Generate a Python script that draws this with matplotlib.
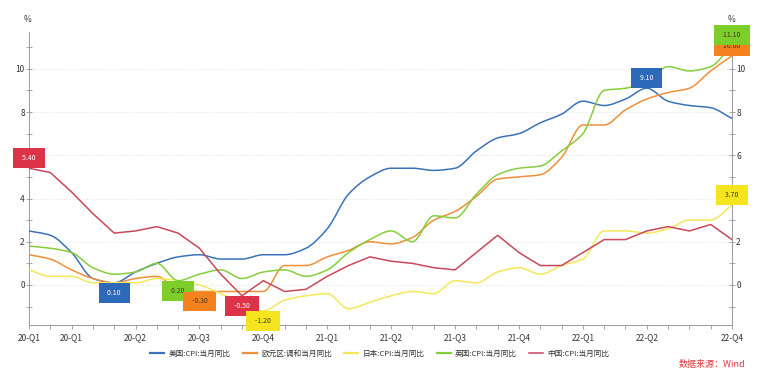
import numpy as np
import matplotlib
matplotlib.use('Agg')
import matplotlib.pyplot as plt
from matplotlib.path import Path
from matplotlib.patches import PathPatch

plt.rcParams['font.family'] = ['Noto Sans CJK SC', 'DejaVu Sans']

# monthly data, 2020-01 .. 2022-10
months = np.arange(34)
us = [2.5, 2.3, 1.5, 0.3, 0.1, 0.6, 1.0, 1.3, 1.4, 1.2, 1.2, 1.4,
      1.4, 1.7, 2.6, 4.2, 5.0, 5.4, 5.4, 5.3, 5.4, 6.2, 6.8, 7.0,
      7.5, 7.9, 8.5, 8.3, 8.6, 9.1, 8.5, 8.3, 8.2, 7.7]
euro = [1.4, 1.2, 0.7, 0.3, 0.1, 0.3, 0.4, -0.2, -0.3, -0.3, -0.3, -0.3,
        0.9, 0.9, 1.3, 1.6, 2.0, 1.9, 2.2, 3.0, 3.4, 4.1, 4.9, 5.0,
        5.1, 5.9, 7.4, 7.4, 8.1, 8.6, 8.9, 9.1, 9.9, 10.6]
japan = [0.7, 0.4, 0.4, 0.1, 0.1, 0.1, 0.3, 0.2, 0.0, -0.4, -0.9, -1.2,
         -0.7, -0.5, -0.4, -1.1, -0.8, -0.5, -0.3, -0.4, 0.2, 0.1, 0.6, 0.8,
         0.5, 0.9, 1.2, 2.5, 2.5, 2.4, 2.6, 3.0, 3.0, 3.7]
uk = [1.8, 1.7, 1.5, 0.8, 0.5, 0.6, 1.0, 0.2, 0.5, 0.7, 0.3, 0.6,
      0.7, 0.4, 0.7, 1.5, 2.1, 2.5, 2.0, 3.2, 3.1, 4.2, 5.1, 5.4,
      5.5, 6.2, 7.0, 9.0, 9.1, 9.4, 10.1, 9.9, 10.1, 11.1]
china = [5.4, 5.2, 4.3, 3.3, 2.4, 2.5, 2.7, 2.4, 1.7, 0.5, -0.5, 0.2,
         -0.3, -0.2, 0.4, 0.9, 1.3, 1.1, 1.0, 0.8, 0.7, 1.5, 2.3, 1.5,
         0.9, 0.9, 1.5, 2.1, 2.1, 2.5, 2.7, 2.5, 2.8, 2.1]

names = ['美国:CPI:当月同比', '欧元区:调和当月同比', '日本:CPI:当月同比',
         '英国:CPI:当月同比', '中国:CPI:当月同比']
tick_pos = [0, 2, 5, 8, 11, 14, 17, 20, 23, 26, 29, 33]
tick_labels = ['20-Q1', '20-Q1', '20-Q2', '20-Q3', '20-Q4', '21-Q1', '21-Q2',
               '21-Q3', '21-Q4', '22-Q1', '22-Q2', '22-Q4']

line_colors = ['#3b72b6', '#ef8f3a', '#f4e85a', '#86cd3c', '#c9475a']
box_colors = ['#2c69b8', '#f5821f', '#f6e41f', '#7dce2a', '#dc3348']


def smooth_path(x, y):
    # monotone cubic through the points, drawn as bezier segments
    x = np.asarray(x, float)
    y = np.asarray(y, float)
    d = np.diff(y) / np.diff(x)
    m = np.zeros_like(y)
    m[0], m[-1] = d[0], d[-1]
    for k in range(1, len(y) - 1):
        if d[k - 1] * d[k] > 0:
            m[k] = 2.0 / (1.0 / d[k - 1] + 1.0 / d[k])
    verts = [(x[0], y[0])]
    codes = [Path.MOVETO]
    for i in range(len(x) - 1):
        h = x[i + 1] - x[i]
        verts += [(x[i] + h / 3, y[i] + m[i] * h / 3),
                  (x[i + 1] - h / 3, y[i + 1] - m[i + 1] * h / 3),
                  (x[i + 1], y[i + 1])]
        codes += [Path.CURVE4] * 3
    return Path(verts, codes)


fig = plt.figure(figsize=(7.6, 3.76), dpi=100)
ax = fig.add_axes([29 / 760, 51 / 376, 703 / 760, 293 / 376])

series = [us, euro, japan, uk, china]
for i, s in enumerate(series):
    if i < 4:
        ax.add_patch(PathPatch(smooth_path(months, s), fill=False,
                               edgecolor=line_colors[i], lw=1.1, zorder=3))
        ax.plot([], [], color=line_colors[i], lw=1.6, label=names[i])
    else:
        ax.plot(months, s, color=line_colors[i], lw=1.1, zorder=3, label=names[i])

ax.set_xlim(0, 33)
ax.set_ylim(-1.85, 11.7)

for v in range(0, 11, 2):
    ax.axhline(v, color='#e6e6e6', lw=0.6, ls=(0, (2, 2)), zorder=1)

ax.set_xticks(months, minor=True)
ax.set_xticks(tick_pos)
ax.set_xticklabels(tick_labels)
ax.set_yticks(range(0, 11, 2))
ax.set_yticks(range(-1, 12, 2), minor=True)
ax.tick_params(axis='x', which='both', direction='out', length=3, width=0.6,
               color='#999999', labelsize=6, labelcolor='#333333', pad=3)
ax.tick_params(axis='y', which='both', direction='inout', length=4, width=0.6,
               color='#999999', labelsize=6, labelcolor='#333333', pad=1,
               right=True, labelright=True)

# the value boxes cover left "6" and right "4" in the original
yt = ax.yaxis.get_major_ticks()
yt[3].label1.set_visible(False)
yt[2].label2.set_visible(False)

for side in ['left', 'right', 'bottom']:
    ax.spines[side].set_color('#999999')
    ax.spines[side].set_linewidth(0.7)
ax.spines['top'].set_visible(False)

# value boxes: (series index, month, above?)
marks = [(4, 0, True), (0, 4, False), (3, 7, False), (1, 8, False),
         (4, 10, False), (2, 11, False), (0, 29, True), (2, 33, True),
         (1, 33, True), (3, 33, True)]
for si, mi, up in marks:
    val = series[si][mi]
    tc = 'white' if si in (0, 4) else '#3a3a2a'
    ax.annotate('  %.2f  ' % val, (mi, val), xytext=(0, 10 if up else -10),
                textcoords='offset pixels', ha='center', va='center',
                fontsize=5, color=tc, zorder=5, annotation_clip=False,
                bbox=dict(boxstyle='square,pad=0.85', fc=box_colors[si],
                          ec='none'))

fig.text(28 / 760, 1 - 20 / 376, '%', ha='center', va='center',
         fontsize=6, color='#333333')
fig.text(732 / 760, 1 - 20 / 376, '%', ha='center', va='center',
         fontsize=6, color='#333333')

fig.legend(loc='center', bbox_to_anchor=(0.5, 22 / 376), ncol=5,
           frameon=False, fontsize=5.5, handlelength=1.8, columnspacing=1.6,
           handletextpad=0.6, labelcolor='#333333')
fig.text(745 / 760, 12 / 376, '数据来源：Wind', ha='right', va='center',
         fontsize=6.5, color='#e0393e')

fig.savefig('out.png', dpi=100)
